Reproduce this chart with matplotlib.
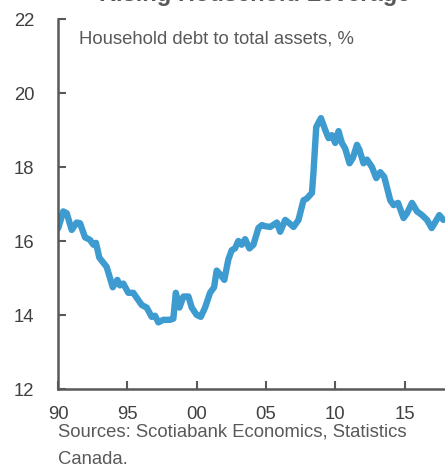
import matplotlib
matplotlib.use("Agg")
import matplotlib.pyplot as plt

years = [1990.02, 1990.38, 1990.63, 1990.99, 1991.35, 1991.59, 1991.95, 1992.31, 1992.55, 1992.74,
         1992.98, 1993.51, 1993.95, 1994.28, 1994.47, 1994.71, 1995.07, 1995.43, 1996.04, 1996.40,
         1996.76, 1997.00, 1997.24, 1997.60, 1998.08, 1998.32, 1998.50, 1998.76, 1999.05, 1999.41,
         1999.65, 2000.01, 2000.30, 2000.61, 2000.97, 2001.26, 2001.45, 2001.69, 2002.00, 2002.29,
         2002.53, 2002.77, 2003.01, 2003.25, 2003.50, 2003.81, 2004.10, 2004.46, 2004.71, 2004.95,
         2005.31, 2005.79, 2006.03, 2006.39, 2006.63, 2006.99, 2007.35, 2007.71, 2007.96, 2008.32,
         2008.43, 2008.63, 2008.97, 2009.28, 2009.52, 2009.76, 2010.00, 2010.24, 2010.48, 2010.72,
         2011.03, 2011.28, 2011.57, 2011.75, 2012.04, 2012.29, 2012.65, 2012.96, 2013.25, 2013.54,
         2013.97, 2014.21, 2014.53, 2014.93, 2015.18, 2015.54, 2015.90, 2016.26, 2016.62, 2016.96,
         2017.20, 2017.51, 2017.80]
debt_to_assets = [16.35, 16.80, 16.75, 16.30, 16.50, 16.48, 16.10, 16.03, 15.90, 15.95,
                  15.55, 15.30, 14.75, 14.95, 14.80, 14.85, 14.60, 14.60, 14.27, 14.20,
                  13.95, 13.98, 13.80, 13.87, 13.87, 13.90, 14.60, 14.20, 14.50, 14.50,
                  14.20, 14.00, 13.95, 14.20, 14.60, 14.75, 15.20, 15.10, 14.95, 15.50,
                  15.75, 15.80, 16.00, 15.90, 16.05, 15.80, 15.90, 16.35, 16.43, 16.40,
                  16.38, 16.50, 16.25, 16.57, 16.50, 16.38, 16.57, 17.10, 17.15, 17.30,
                  17.85, 19.08, 19.32, 19.00, 18.78, 18.86, 18.65, 18.97, 18.65, 18.50,
                  18.10, 18.25, 18.60, 18.46, 18.10, 18.20, 18.00, 17.70, 17.86, 17.73,
                  17.10, 16.97, 17.03, 16.62, 16.75, 17.03, 16.80, 16.70, 16.57, 16.35,
                  16.50, 16.70, 16.57]
xtick_pos = [1990, 1995, 2000, 2005, 2010, 2015]
xtick_labels = ["90", "95", "00", "05", "10", "15"]
ytick_pos = [12, 14, 16, 18, 20, 22]

plt.rcParams['font.family'] = ['Liberation Sans', 'DejaVu Sans']

W, H = 445, 466
fig = plt.figure(figsize=(W / 100, H / 100), dpi=100)
ax = fig.add_axes([58 / W, 1 - 389 / H, (W - 58) / W, (389 - 19) / H])

ax.plot(years, debt_to_assets, color="#3d9bd0", lw=4.6, solid_joinstyle="round", solid_capstyle="round")

ax.set_xlim(1990, 2017.92)
ax.set_ylim(12, 22)
ax.set_xticks(xtick_pos)
ax.set_xticklabels(xtick_labels)
ax.set_yticks(ytick_pos)

for s in ["top", "right"]:
    ax.spines[s].set_visible(False)
for s in ["left", "bottom"]:
    ax.spines[s].set_color("#595959")
    ax.spines[s].set_linewidth(1.8)

ax.tick_params(axis="both", direction="in", length=6, width=1.5, color="#595959",
               labelsize=13.3, labelcolor="#404040")
ax.tick_params(axis="y", pad=17)
ax.tick_params(axis="x", pad=12)

ax.text(0.055, 0.945, "Household debt to total assets, %", transform=ax.transAxes,
        fontsize=13.3, color="#595959", va="center", ha="left")

fig.text(58 / W, 1 - 432 / H, "Sources: Scotiabank Economics, Statistics",
         fontsize=13.3, color="#595959", ha="left", va="center")
fig.text(58 / W, 1 - 459 / H, "Canada.",
         fontsize=13.3, color="#595959", ha="left", va="center")

fig.text(255 / W, 1 - 1.5 / H, "Rising Household Leverage", fontsize=17, fontweight="bold",
         color="#595959", ha="center", va="baseline")

fig.savefig("out.png", dpi=100)
